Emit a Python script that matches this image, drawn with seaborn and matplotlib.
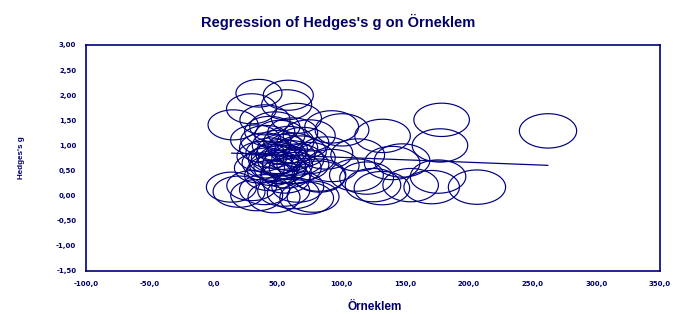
import numpy as np
import pandas as pd
import matplotlib
matplotlib.use("Agg")
import matplotlib.pyplot as plt
from matplotlib.path import Path
from matplotlib.ticker import FuncFormatter
import seaborn as sns

# ---------------- data ----------------
orneklem = [
    35.6, 58.6, 29.8, 57.3, 15.3, 40.3, 65.0, 48.0, 33.0, 92.6,
    100.7, 132.5, 178.8, 177.5, 262.2, 75.0, 62.0, 52.0, 44.0, 70.0,
    40, 45, 50, 55, 60, 48, 52, 58, 42, 46,
    54, 62, 66, 38, 50, 57, 44, 64, 70, 36,
    53, 47, 59, 41, 68, 56, 75,
    113, 112, 83, 93, 140, 147.8, 120, 88,
    14, 20, 33.8, 40, 47.4, 55, 62.5, 73, 78, 30, 66, 82.6,
    132, 154.5, 171, 176, 206.5, 125,
]
hedges_g = [
    2.04, 2.00, 1.73, 1.81, 1.41, 1.51, 1.54, 1.37, 1.11, 1.37,
    1.31, 1.19, 1.51, 1.00, 1.29, 1.20, 1.25, 1.20, 1.28, 1.05,
    0.95, 0.85, 0.75, 0.70, 0.80, 0.60, 0.55, 0.62, 0.65, 0.50,
    0.92, 0.95, 0.72, 0.78, 1.00, 0.45, 0.40, 0.55, 0.62, 0.55,
    0.82, 0.72, 1.08, 1.10, 0.88, 0.35, 0.75,
    0.81, 0.41, 0.38, 0.60, 0.65, 0.70, 0.35, 0.85,
    0.17, 0.08, 0.01, 0.12, -0.03, 0.10, 0.05, -0.05, -0.02, 0.20, 0.18, 0.41,
    0.15, 0.21, 0.17, 0.38, 0.17, 0.21,
]
weights = [
    0.70, 0.80, 0.80, 0.80, 0.80, 0.80, 0.80, 0.80, 0.80, 0.90,
    0.90, 0.95, 0.95, 0.95, 1.00, 0.85, 0.80, 0.80, 0.80, 0.85,
    0.80, 0.80, 0.85, 0.85, 0.80, 0.80, 0.85, 0.80, 0.80, 0.80,
    0.80, 0.80, 0.85, 0.80, 0.80, 0.80, 0.80, 0.85, 0.85, 0.80,
    0.80, 0.80, 0.80, 0.80, 0.85, 0.80, 0.85,
    0.90, 0.90, 0.85, 0.90, 0.95, 0.95, 0.90, 0.90,
    0.80, 0.85, 0.85, 0.80, 0.85, 0.85, 0.85, 0.90, 0.85, 0.80, 0.85, 0.90,
    0.95, 0.95, 0.95, 0.95, 1.00, 0.95,
]
reg_intercept = 0.861
reg_slope = -0.00098

x_ticks = [-100, -50, 0, 50, 100, 150, 200, 250, 300, 350]
y_ticks = [-1.5, -1.0, -0.5, 0.0, 0.5, 1.0, 1.5, 2.0, 2.5, 3.0]

title = "Regression of Hedges's g on Örneklem"
xlabel = "Örneklem"
ylabel = "Hedges's g"

# ---------------- style ----------------
NAVY = "#000080"
TXT = "#000066"
sns.set_style("white")
plt.rcParams["font.family"] = ["Liberation Sans", "DejaVu Sans"]

df = pd.DataFrame({"x": orneklem, "y": hedges_g, "w": weights})

fig = plt.figure(figsize=(6.8, 3.14), dpi=100)
ax = fig.add_axes([86 / 680, 1 - 271 / 314, (660 - 86) / 680, (271 - 45) / 314])

# ellipse marker (wider than tall)
t = np.linspace(0, 2 * np.pi, 73)
verts = np.column_stack([np.cos(t), 0.6 * np.sin(t)])
ellipse = Path(verts, closed=True)

sns.scatterplot(data=df, x="x", y="y", size="w", sizes=(1100, 1700),
                marker=ellipse, ax=ax, legend=False, linewidth=0.85,
                color=NAVY, zorder=3)
coll = ax.collections[0]
coll.set_facecolor("none")
coll.set_edgecolor(NAVY)

xr = np.array([min(orneklem), max(orneklem)])
sns.lineplot(x=xr, y=reg_intercept + reg_slope * xr, ax=ax, color=NAVY,
             linewidth=0.9, zorder=4)

ax.set_xlim(x_ticks[0], x_ticks[-1])
ax.set_ylim(y_ticks[0], y_ticks[-1])
ax.set_xticks(x_ticks)
ax.set_yticks(y_ticks)
ax.xaxis.set_major_formatter(FuncFormatter(lambda v, p: f"{v:.1f}".replace(".", ",")))
ax.yaxis.set_major_formatter(FuncFormatter(lambda v, p: f"{v:.2f}".replace(".", ",")))
ax.tick_params(axis="both", direction="out", length=4, width=1, color=NAVY,
               labelsize=5, labelcolor=TXT, pad=3)
for lab in ax.get_xticklabels() + ax.get_yticklabels():
    lab.set_fontweight("bold")
    lab.set_family(["DejaVu Sans"])
for sp in ax.spines.values():
    sp.set_color(NAVY)
    sp.set_linewidth(1.2)

ax.set_xlabel("")
ax.set_ylabel("")
fig.text(0.497, 0.93, title, ha="center", va="center", fontsize=10.5,
         fontweight="bold", color=TXT)
fig.text(0.551, 0.022, xlabel, ha="center", va="center", fontsize=8.5,
         fontweight="bold", color=TXT)
fig.text(0.032, 0.497, ylabel, ha="center", va="center", fontsize=5.8,
         fontweight="bold", color=TXT, rotation=90)

fig.savefig("out.png", dpi=100)
